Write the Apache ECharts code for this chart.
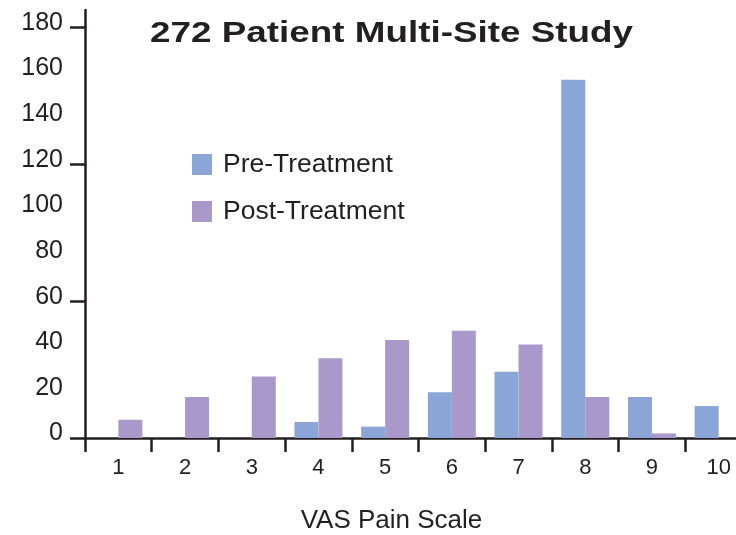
<!DOCTYPE html>
<html>
<head>
<meta charset="utf-8">
<script src="https://cdn.jsdelivr.net/npm/echarts@6/dist/echarts.min.js"></script>
<style>html,body{margin:0;padding:0;background:#fff}#c{width:736px;height:535px}</style>
</head>
<body>
<div id="c"></div>
<script>
var categories = ['1','2','3','4','5','6','7','8','9','10'];
var preTreatment = [0, 0, 0, 7, 5, 20, 29, 157, 18, 14];
var postTreatment = [8, 18, 27, 35, 43, 47, 41, 18, 2, 0];
var yLabelValues = [0, 20, 40, 60, 80, 100, 120, 140, 160, 180];
var yTickValues = [0, 60, 120, 180];
var titleText = '272 Patient Multi-Site Study';
var xAxisTitle = 'VAS Pain Scale';

var ink = '#231f20';
var chart = echarts.init(document.getElementById('c'), null, {renderer: 'canvas'});
chart.setOption({
  animation: false,
  backgroundColor: '#ffffff',
  textStyle: {fontFamily: 'Liberation Sans'},
  grid: {left: 85, top: 10, width: 667, height: 428, containLabel: false, outerBoundsMode: 'none'},
  legend: {
    orient: 'vertical', left: 192, top: 151, padding: 0,
    itemWidth: 20, itemHeight: 21, itemGap: 20,
    icon: 'rect',
    textStyle: {fontSize: 26.5, color: ink, fontFamily: 'Liberation Sans', padding: [4,0,0,6]},
    data: ['Pre-Treatment', 'Post-Treatment']
  },
  xAxis: {
    type: 'category', data: categories,
    axisLine: {show: true, lineStyle: {color: ink, width: 2.7}},
    axisTick: {show: true, length: 14, interval: 0, lineStyle: {color: ink, width: 2.5}},
    axisLabel: {interval: 0, fontSize: 22, color: ink, margin: 19, fontFamily: 'Liberation Sans'},
    splitLine: {show: false}
  },
  yAxis: {
    type: 'value', min: 0, max: 187.6, interval: 20,
    axisLine: {show: true, lineStyle: {color: ink, width: 2.5}},
    axisTick: {show: true, length: 15, customValues: yTickValues, lineStyle: {color: ink, width: 2.5}},
    axisLabel: {customValues: yLabelValues, fontSize: 25, color: ink, margin: 22,
      verticalAlign: 'bottom', lineHeight: 9, fontFamily: 'Liberation Sans'},
    splitLine: {show: false}
  },
  series: [
    {name: 'Pre-Treatment', type: 'bar', data: preTreatment, barWidth: 24, barGap: '0%',
     itemStyle: {color: '#8ba5d6'}},
    {name: 'Post-Treatment', type: 'bar', data: postTreatment, barWidth: 24, barGap: '0%',
     itemStyle: {color: '#a999cb'}}
  ],
  graphic: [
    {type: 'text', x: 391.5, y: 34, scaleX: 1.27,
     style: {text: titleText, font: 'bold 29px "Liberation Sans"', fill: ink, align: 'center', verticalAlign: 'middle'}},
    {type: 'text', x: 391.5, y: 521,
     style: {text: xAxisTitle, font: '26px "Liberation Sans"', fill: ink, align: 'center', verticalAlign: 'middle'}}
  ]
});
</script>
</body>
</html>
